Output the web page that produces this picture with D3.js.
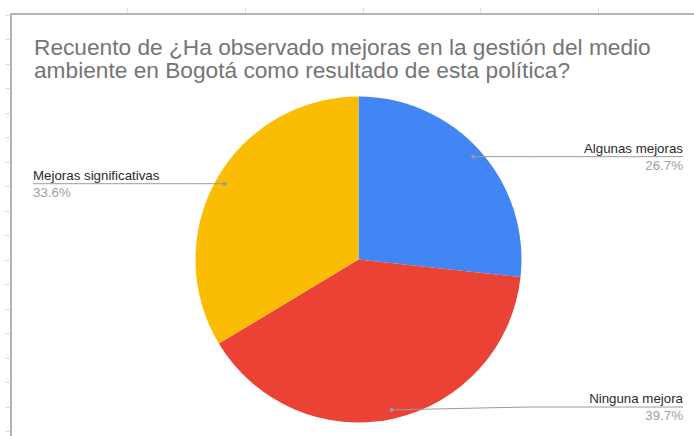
<!DOCTYPE html>
<html>
<head>
<meta charset="utf-8">
<style>
	html, body { margin: 0; padding: 0; background: #fff; }
	svg { display: block; }
</style>
<script src="https://cdn.jsdelivr.net/npm/d3@7"></script>
</head>
<body>
<div id="chart"></div>
<script>
(function () {
	"use strict";

	// answers in the sheet's order, with their counts (116 replies)
	var categories = ['Algunas mejoras', 'Ninguna mejora', 'Mejoras significativas'];
	var counts = [31, 46, 39];
	var colors = ['#4285f4', '#ea4335', '#fbbc04'];
	var titleLines = [
		'Recuento de \u00bfHa observado mejoras en la gesti\u00f3n del medio',
		'ambiente en Bogot\u00e1 como resultado de esta pol\u00edtica?'
	];

	var WIDTH = 694;
	var HEIGHT = 436;
	var FRAME_LEFT = 11;
	var FRAME_TOP = 14;
	var CENTER_X = 358.5;
	var CENTER_Y = 259.5;
	var RADIUS = 163;
	var DOT_RADIUS = 154;
	var LABEL_LEFT = 33;
	var LABEL_RIGHT = 683;
	var LABEL_BOTTOM = 407;
	var FONT = '"Liberation Sans", Arial, sans-serif';

	var svg = d3.select('#chart').append('svg')
		.attr('width', WIDTH)
		.attr('height', HEIGHT);

	svg.append('rect')
		.attr('width', WIDTH)
		.attr('height', HEIGHT)
		.attr('fill', 'white');

	// spreadsheet grid peeking out around the chart
	var grid = svg.append('g')
		.attr('stroke', '#dedede')
		.attr('stroke-width', 1);
	grid.selectAll('.row-tick')
		.data(d3.range(FRAME_TOP + 0.5, HEIGHT, 24.5))
		.enter()
		.append('line')
		.attr('x1', 5)
		.attr('x2', FRAME_LEFT)
		.attr('y1', function (y) { return Math.round(y) + 0.5; })
		.attr('y2', function (y) { return Math.round(y) + 0.5; });
	grid.selectAll('.col-tick')
		.data(d3.range(127, WIDTH, 117.8))
		.enter()
		.append('line')
		.attr('x1', function (x) { return Math.round(x) + 0.5; })
		.attr('x2', function (x) { return Math.round(x) + 0.5; })
		.attr('y1', 8)
		.attr('y2', FRAME_TOP);

	// chart frame
	svg.append('path')
		.attr('d', 'M' + FRAME_LEFT + ',' + HEIGHT + 'V' + FRAME_TOP + 'H' + WIDTH)
		.attr('fill', 'none')
		.attr('stroke', '#b4b4b4')
		.attr('stroke-width', 2);

	svg.append('text')
		.attr('font-family', FONT)
		.attr('font-size', 22.7)
		.attr('fill', '#757575')
		.selectAll('tspan')
		.data(titleLines)
		.enter()
		.append('tspan')
		.attr('x', 34)
		.attr('y', function (_, i) { return 55 + i * 23; })
		.text(function (line) { return line; });

	var total = d3.sum(counts);
	var slices = d3.pie().sort(null)(counts);
	var arc = d3.arc().innerRadius(0).outerRadius(RADIUS);
	var dotArc = d3.arc().innerRadius(DOT_RADIUS).outerRadius(DOT_RADIUS);

	var pie = svg.append('g')
		.attr('transform', 'translate(' + CENTER_X + ',' + CENTER_Y + ')');

	pie.selectAll('.slice')
		.data(slices)
		.enter()
		.append('path')
		.classed('slice', true)
		.attr('d', arc)
		.attr('fill', function (_, i) { return colors[i]; });

	var labels = pie.selectAll('.label')
		.data(slices)
		.enter()
		.append('g')
		.classed('label', true)
		.each(function (slice, i) {
			var g = d3.select(this);
			var dot = dotArc.centroid(slice);
			var right = dot[0] > 0;
			var lineY = Math.min(dot[1], LABEL_BOTTOM - CENTER_Y);
			var kinkX = right ? RADIUS + 7 : -RADIUS - 7;
			var endX = right ? LABEL_RIGHT - CENTER_X : LABEL_LEFT - CENTER_X;

			g.append('path')
				.attr('d', d3.line()([dot, [kinkX, lineY], [endX, lineY]]))
				.attr('fill', 'none')
				.attr('stroke', '#9a9a9a')
				.attr('stroke-width', 1);
			g.append('circle')
				.attr('cx', dot[0])
				.attr('cy', dot[1])
				.attr('r', 2)
				.attr('fill', '#9a9a9a');

			var text = g.append('text')
				.attr('font-family', FONT)
				.attr('font-size', 13.3)
				.attr('text-anchor', right ? 'end' : 'start');
			text.append('tspan')
				.attr('x', endX)
				.attr('y', lineY - 4)
				.attr('fill', '#2a2a2a')
				.text(categories[i]);
			text.append('tspan')
				.attr('x', endX)
				.attr('y', lineY + 13)
				.attr('fill', '#a0a0a0')
				.text(d3.format('.1%')(counts[i] / total));
		});
}());
</script>
</body>
</html>
